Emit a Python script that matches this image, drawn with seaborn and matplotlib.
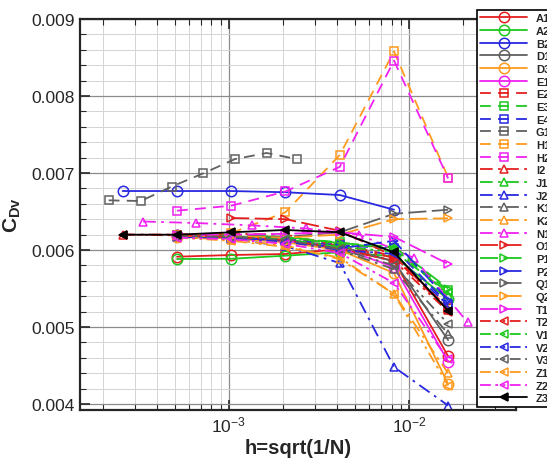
import numpy as np
import pandas as pd
import matplotlib
matplotlib.use("Agg")
import matplotlib.pyplot as plt
import seaborn as sns
from matplotlib.ticker import LogLocator, NullFormatter, MultipleLocator

# ---------------- data ----------------
H_F1 = [2.57e-4, 5.15e-4, 1.03e-3, 2.06e-3, 4.13e-3, 8.26e-3, 1.65e-2]
H_G1 = [2.15e-4, 3.24e-4, 4.81e-4, 7.21e-4, 1.08e-3, 1.62e-3, 2.39e-3]
H_N1 = [3.34e-4, 6.6e-4, 1.34e-3, 2.67e-3, 5.3e-3, 1.06e-2, 2.12e-2]

A1 = [None, 0.005913, 0.005935, 0.005948, 0.00601, 0.00586, 0.00462]
A2 = [None, 0.005883, 0.005886, 0.005926, 0.00597, 0.00592, 0.00536]
B2 = [0.006766, 0.006766, 0.006766, 0.00675, 0.006714, 0.006523, None]
D1 = [None, 0.00620, 0.00618, 0.00613, 0.00605, 0.00585, 0.00483]
D3 = [None, 0.00617, 0.00615, 0.00610, 0.00600, 0.00570, 0.00426]
E1 = [None, 0.00619, 0.00617, 0.00612, 0.00603, 0.00578, 0.00455]
E2 = [None, 0.00620, 0.00620, 0.00616, 0.00608, 0.00592, 0.00525]
E3 = [None, 0.00618, 0.00618, 0.00616, 0.00610, 0.00600, 0.00548]
E4 = [None, 0.00618, 0.00617, 0.00614, 0.00606, 0.00602, 0.00530]
G1 = [0.006645, 0.006636, 0.006823, 0.006996, 0.00718, 0.00726, 0.00718]
H1 = [None, 0.00619, 0.00622, 0.00649, 0.007234, 0.00858, 0.00694]
H2 = [None, 0.00651, 0.006575, 0.00676, 0.00708, 0.00846, 0.00693]
I2 = [0.00620, 0.00620, 0.00621, 0.00620, 0.00605, 0.00590, 0.00522]
J1 = [None, 0.00618, 0.00619, 0.00617, 0.00607, 0.00603, 0.00542]
J2 = [None, 0.00617, 0.00614, 0.00605, 0.00583, 0.00448, 0.00398]
K1 = [None, 0.00619, 0.00618, 0.00615, 0.00600, 0.00575, 0.00491]
K2 = [None, 0.00617, 0.00613, 0.00606, 0.00588, 0.00543, 0.00440]
N1 = [0.00637, 0.00635, 0.00632, 0.00628, 0.00620, 0.00590, 0.00506]
O1 = [None, None, 0.006416, 0.00640, 0.00625, 0.00592, 0.00523]
P1 = [None, 0.00618, 0.00618, 0.00617, 0.00609, 0.00604, 0.00550]
P2 = [None, 0.00617, 0.00616, 0.00612, 0.00602, 0.00612, 0.00535]
Q1 = [None, 0.00619, 0.00619, 0.00617, 0.00623, 0.00647, 0.006523]
Q2 = [None, 0.00618, 0.00618, 0.00616, 0.00620, 0.00640, 0.006412]
T1 = [None, 0.00619, 0.00620, 0.00621, 0.00623, 0.00617, 0.00582]
T2 = [0.00620, 0.00619, 0.00617, 0.00613, 0.00602, 0.00586, 0.00520]
V1 = [None, 0.00617, 0.00617, 0.00614, 0.00604, 0.00598, 0.00545]
V2 = [None, 0.00617, 0.00615, 0.00611, 0.00600, 0.00595, 0.00528]
V3 = [None, 0.00618, 0.00617, 0.00613, 0.00601, 0.00580, 0.00504]
Z1 = [None, 0.00616, 0.00612, 0.00604, 0.00590, 0.00543, 0.00424]
Z2 = [None, 0.00616, 0.00614, 0.00608, 0.00596, 0.00557, 0.00458]
Z3 = [0.006199, 0.006199, 0.00623, 0.00626, 0.00623, 0.00597, 0.005212]

SERIES = [
    ("A1", A1, H_F1), ("A2", A2, H_F1), ("B2", B2, H_F1), ("D1", D1, H_F1),
    ("D3", D3, H_F1), ("E1", E1, H_F1),
    ("E2", E2, H_F1), ("E3", E3, H_F1), ("E4", E4, H_F1), ("G1", G1, H_G1),
    ("H1", H1, H_F1), ("H2", H2, H_F1),
    ("I2", I2, H_F1), ("J1", J1, H_F1), ("J2", J2, H_F1), ("K1", K1, H_F1),
    ("K2", K2, H_F1), ("N1", N1, H_N1),
    ("O1", O1, H_F1), ("P1", P1, H_F1), ("P2", P2, H_F1), ("Q1", Q1, H_F1),
    ("Q2", Q2, H_F1), ("T1", T1, H_F1),
    ("T2", T2, H_F1), ("V1", V1, H_F1), ("V2", V2, H_F1), ("V3", V3, H_F1),
    ("Z1", Z1, H_F1), ("Z2", Z2, H_F1),
    ("Z3", Z3, H_F1),
]

# ---------------- styles ----------------
COLORS = ["#e41e1e", "#1ec81e", "#2828e0", "#606060", "#ff9a1e", "#f020f0"]
GROUPS = [  # marker, linestyle, markersize
    ("o", "-", 7.5),
    ("s", (0, (6, 4)), 5.5),
    ("^", (0, (7, 3, 1.5, 3)), 6),
    (">", (0, (10, 3)), 6),
    ("<", (0, (6, 2.5, 1.5, 2.5, 1.5, 2.5)), 6),
]

sns.set_style("ticks")
plt.rcParams["font.family"] = ["Liberation Sans", "DejaVu Sans"]
plt.rcParams["mathtext.fontset"] = "custom"
plt.rcParams["mathtext.rm"] = "Liberation Sans"
plt.rcParams["mathtext.bf"] = "Liberation Sans:bold"

fig = plt.figure(figsize=(5.47, 4.64), dpi=100)
AX_BOTTOM = 411
ax = fig.add_axes([80 / 547, 1 - AX_BOTTOM / 464, (516 - 80) / 547, (AX_BOTTOM - 20) / 464])

for i, (name, vals, hs) in enumerate(SERIES):
    df = pd.DataFrame({"h": hs, "cdv": vals}).dropna()
    if name == "Z3":
        color, marker, ls, ms, mfc = "black", "<", "-", 6, "black"
    else:
        g = i // 6
        color = COLORS[i % 6]
        marker, ls, ms = GROUPS[g]
        mfc = "none"
    sns.lineplot(data=df, x="h", y="cdv", ax=ax, color=color, marker=marker,
                 linestyle=ls, linewidth=1.3, markersize=ms,
                 markerfacecolor=mfc, markeredgecolor=color, markeredgewidth=1.1,
                 label=name, estimator=None, errorbar=None, sort=False)

ax.set_xscale("log")
ax.set_xlim(1.49e-4, 0.0393)
ax.set_ylim(0.004 - 6 / 77 * 0.001, 0.009)
ax.yaxis.set_major_locator(MultipleLocator(0.001))
ax.yaxis.set_minor_locator(MultipleLocator(0.0002))
ax.xaxis.set_major_locator(LogLocator(base=10))
ax.xaxis.set_minor_locator(LogLocator(base=10, subs=np.arange(2, 10)))
ax.xaxis.set_minor_formatter(NullFormatter())
ax.yaxis.set_major_formatter(matplotlib.ticker.FormatStrFormatter("%.3f"))

ax.grid(which="major", color="#8c8c8c", linewidth=0.9)
ax.grid(which="minor", color="#d4d4d4", linewidth=0.7)
ax.set_axisbelow(True)

ax.tick_params(which="both", direction="in", top=True, right=True, labelsize=12.5)
ax.tick_params(which="major", length=7, width=1.2)
ax.tick_params(which="minor", length=4, width=0.8)
for sp in ax.spines.values():
    sp.set_linewidth(1.6)

ax.set_xlabel("h=sqrt(1/N)", fontsize=14.5, fontweight="bold", labelpad=2)
ax.set_ylabel(r"$\mathbf{C_{Dv}}$", fontsize=15, labelpad=6)

handles, labels = ax.get_legend_handles_labels()
leg = ax.legend(handles, labels, loc="upper left",
                bbox_to_anchor=(477 / 547, 1 - 11 / 464), bbox_transform=fig.transFigure,
                frameon=True, fancybox=False, framealpha=1, edgecolor="black",
                prop={"weight": "bold", "size": 8}, handlelength=4.2,
                handletextpad=0.8, labelspacing=0.24, borderpad=0.3, borderaxespad=0)
leg.get_frame().set_linewidth(1.2)
leg.set_zorder(10)

fig.savefig("out.png", dpi=100)
